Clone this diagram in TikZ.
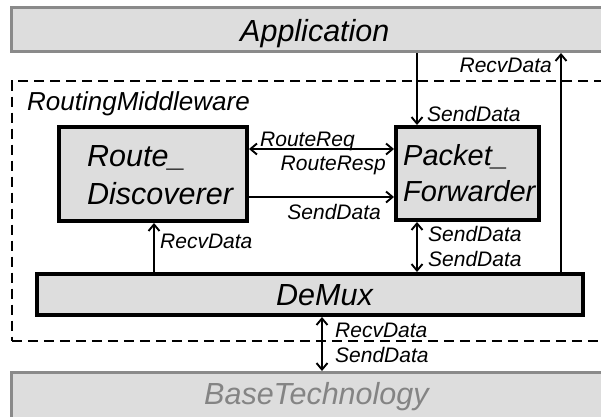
\documentclass[tikz,border=0pt]{standalone}
\usepackage{fontspec}
\setmainfont{Liberation Sans}
\usetikzlibrary{arrows.meta}
\definecolor{boxfill}{HTML}{DDDDDD}
\definecolor{edgegrey}{HTML}{8A8A8A}
\definecolor{textgrey}{HTML}{848484}
\begin{document}
\begin{tikzpicture}[x=1pt,y=-1pt,
  layer/.style={draw=edgegrey, fill=boxfill, line width=3.2pt, anchor=north west, inner sep=0pt},
  module/.style={draw=black, fill=boxfill, line width=4pt, anchor=north west, inner sep=0pt},
  group/.style={draw=black, dash pattern=on 10pt off 6pt, line width=1.8pt, anchor=north west, inner sep=0pt},
  bigtxt/.style={font=\fontsize{30.5}{36}\selectfont\itshape, anchor=base west, inner sep=0pt},
  pftxt/.style={font=\fontsize{29}{34}\selectfont\itshape, anchor=base west, inner sep=0pt},
  midtxt/.style={font=\fontsize{26}{30}\selectfont\itshape, anchor=base west, inner sep=0pt},
  lbl/.style={font=\fontsize{21}{25}\selectfont\itshape, anchor=base west, inner sep=0pt},
  lblr/.style={lbl, anchor=base east},
  tipV/.tip={Straight Barb[length=6.5pt,width=11pt]},
  flow/.style={line width=1.9pt, -tipV},
  flowboth/.style={line width=1.9pt, tipV-tipV},
]
\path[use as bounding box] (0,0) rectangle (601,416);
\clip (0,0) rectangle (601,416);

% layers and modules
\node[layer, minimum width=630pt, minimum height=43.8pt] (app) at (10,6) {};
\node[group, minimum width=630pt, minimum height=260.2pt] (mw) at (11,80) {};
\node[module, minimum width=188pt, minimum height=94pt] (rd) at (57,125) {};
\node[module, minimum width=143pt, minimum height=93pt] (pf) at (394,125) {};
\node[module, minimum width=546pt, minimum height=41pt] (demux) at (35,272) {};
\node[layer, minimum width=630pt, minimum height=60pt] (base) at (10,371) {};

% captions
\node[bigtxt] (tapp) at (240,41) {Application};
\node[midtxt] (tmw) at (27,110) {RoutingMiddleware};
\node[bigtxt] (trd1) at (87,166) {Route\_};
\node[bigtxt] (trd2) at (87,204) {Discoverer};
\node[pftxt] (tpf1) at (403,165) {Packet\_};
\node[pftxt] (tpf2) at (403,201) {Forwarder};
\node[bigtxt] (tdm) at (276,305) {DeMux};
\node[bigtxt, text=textgrey] (tbase) at (204,404) {BaseTechnology};

% connector positions
\coordinate (xa) at (417,0);
\coordinate (xb) at (561,0);
\coordinate (xc) at (154,0);
\coordinate (xd) at (322,0);
\coordinate (ya) at (0,149);
\coordinate (yb) at (0,197);

% connectors
\draw[flow] (app.south -| xa) -- (pf.north -| xa);
\draw[flow] (demux.north -| xb) -- (app.south -| xb);
\draw[flowboth] (rd.east |- ya) -- (pf.west |- ya);
\draw[flow] (rd.east |- yb) -- (pf.west |- yb);
\draw[flow] (demux.north -| xc) -- (rd.south -| xc);
\draw[flowboth] (pf.south -| xa) -- (demux.north -| xa);
\draw[flowboth] (demux.south -| xd) -- (base.north -| xd);

% connector labels
\node[lbl] (l1) at (427,121) {SendData};
\node[lblr] (l2) at (552,72) {RecvData};
\node[lbl] (l3) at (260,146) {RouteReq};
\node[lblr] (l4) at (386,170) {RouteResp};
\node[lblr] (l5) at (381,219) {SendData};
\node[lbl] (l6) at (160,248) {RecvData};
\node[lbl] (l7) at (428,241) {SendData};
\node[lbl] (l8) at (428,266) {SendData};
\node[lbl] (l9) at (335,337) {RecvData};
\node[lbl] (l10) at (335,362) {SendData};
\end{tikzpicture}
\end{document}
